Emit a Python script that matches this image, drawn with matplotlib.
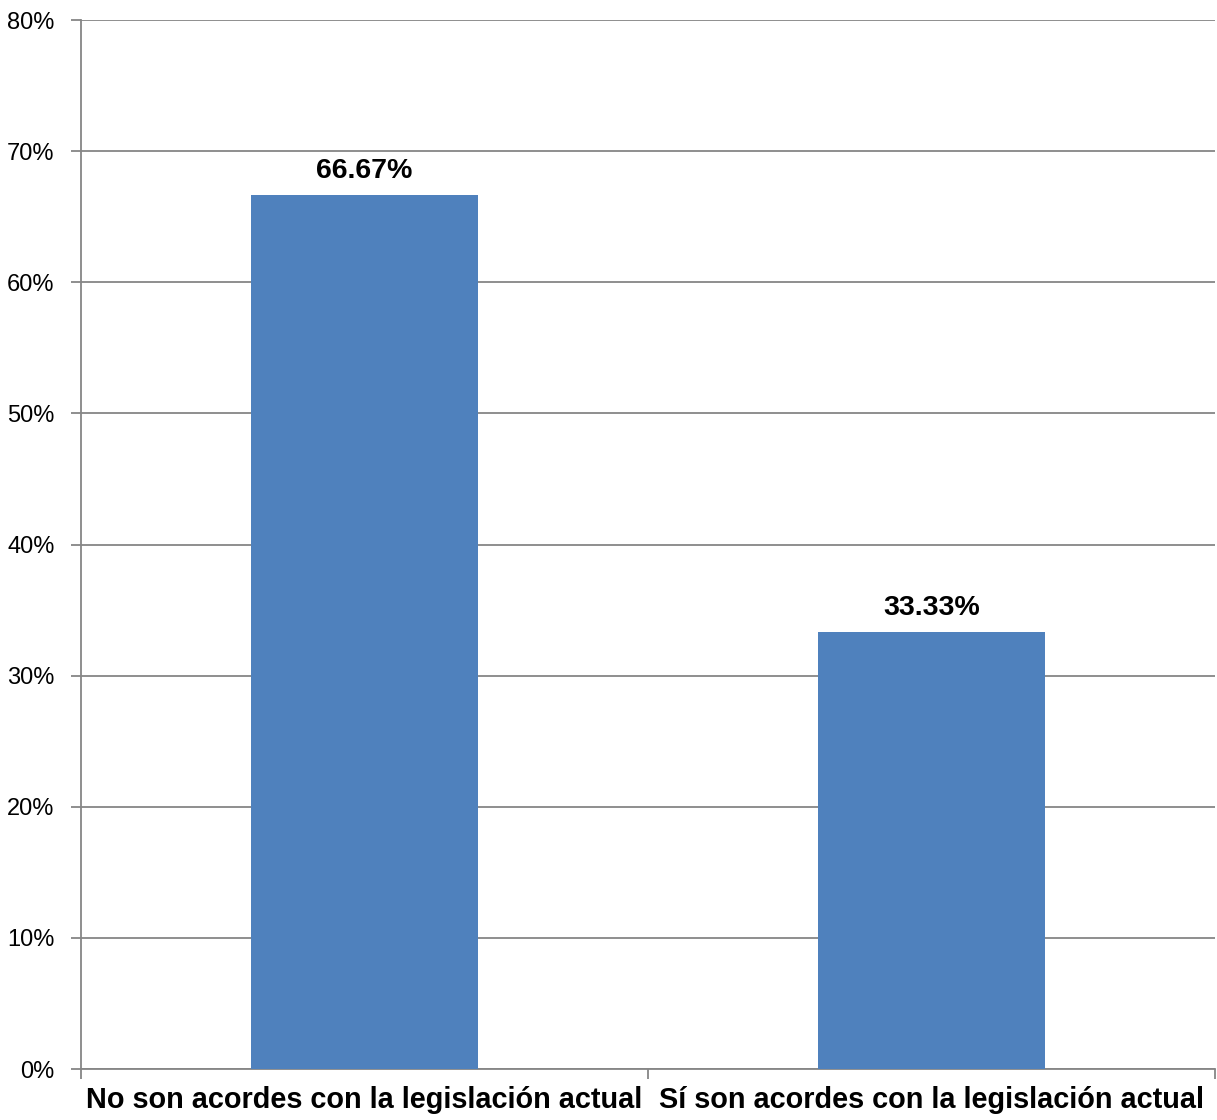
import matplotlib.pyplot as plt
from matplotlib.ticker import FixedLocator

plt.rcParams['font.family'] = ['Liberation Sans', 'DejaVu Sans']

categorias = ['No son acordes con la legislación actual', 'Sí son acordes con la legislación actual']
valores = [66.67, 33.33]
yticks = [0, 10, 20, 30, 40, 50, 60, 70, 80]

fig = plt.figure(figsize=(12.17, 11.2), dpi=100)
ax = fig.add_axes([0.0666, 0.0455, 0.9318, 0.9365])

gris = '#868686'
x = range(len(categorias))
bars = ax.bar(x, valores, width=0.4, color='#4F81BD', zorder=3)

for b, v in zip(bars, valores):
    ax.annotate(f'{v:.2f}%', (b.get_x() + b.get_width() / 2, v), xytext=(0, 8),
                textcoords='offset points', ha='center', va='bottom',
                fontsize=20.5, fontweight='bold')

ax.set_xlim(-0.5, 1.5)
ax.set_ylim(0, 80)
ax.set_yticks(yticks)
ax.set_yticklabels([f'{t}%' for t in yticks], fontsize=17)
ax.yaxis.grid(True, color=gris, linewidth=1.3, zorder=0)

ax.set_xticks(list(x))
ax.set_xticklabels(categorias, fontsize=20.8, fontweight='bold')
ax.tick_params(axis='x', length=0, pad=12)
ax.xaxis.set_minor_locator(FixedLocator([-0.5, 0.5, 1.5]))
ax.tick_params(axis='x', which='minor', length=7, color=gris, width=1.3)
ax.tick_params(axis='y', length=7, color=gris, width=1.3, pad=12)

for s in ['top', 'right']:
    ax.spines[s].set_visible(False)
for s in ['left', 'bottom']:
    ax.spines[s].set_color(gris)
    ax.spines[s].set_linewidth(1.3)

fig.savefig('out.png', dpi=100)
